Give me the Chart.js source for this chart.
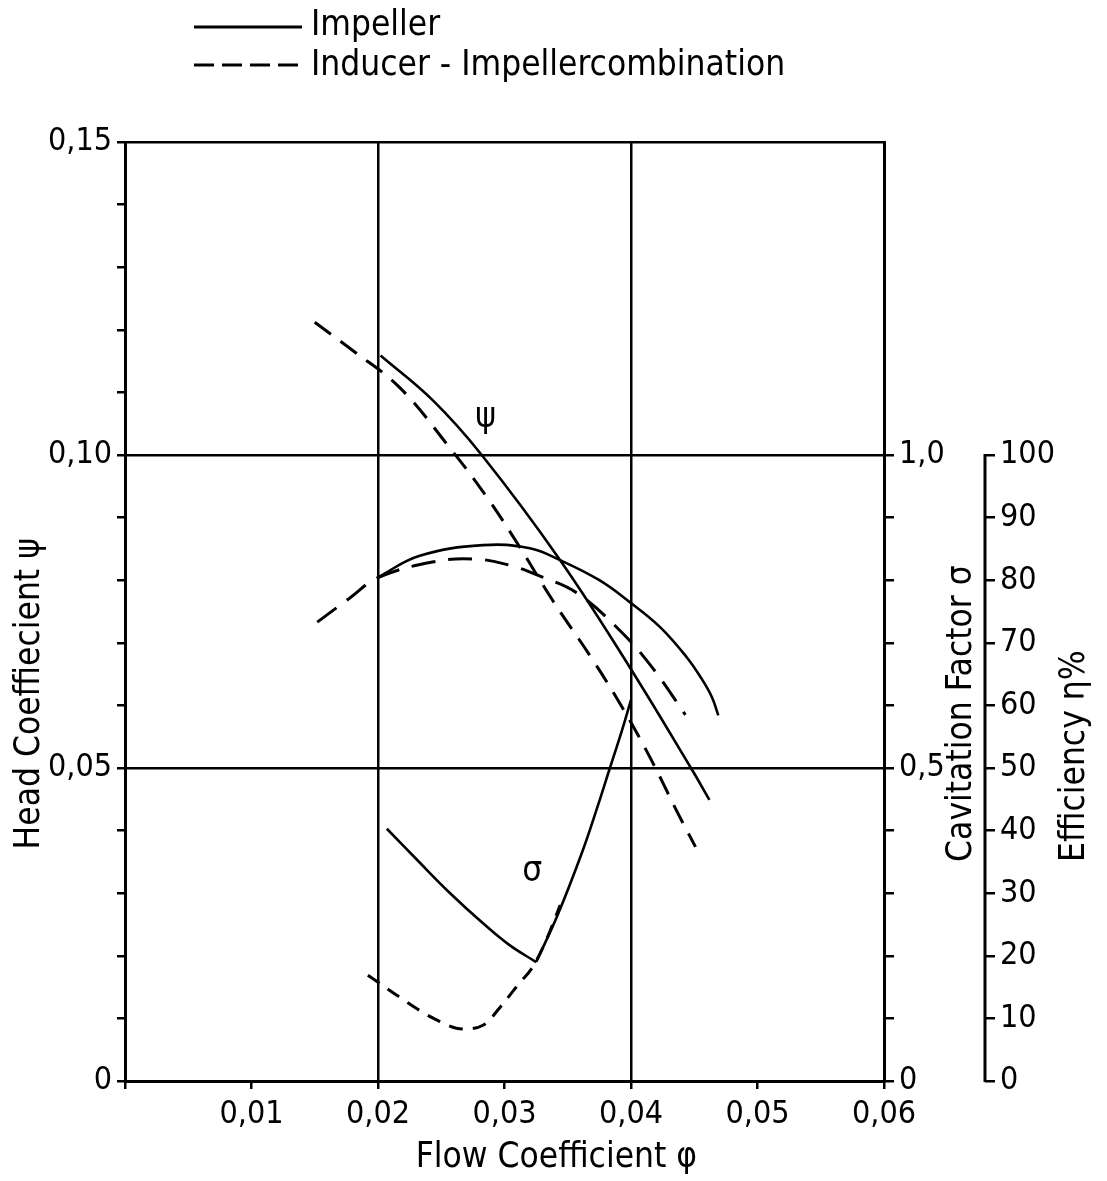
<!DOCTYPE html>
<html>
<head>
<meta charset="utf-8">
<script src="https://cdn.jsdelivr.net/npm/chart.js@4.4.1/dist/chart.umd.min.js"></script>
<style>
  html, body { margin: 0; padding: 0; background: #fff; }
</style>
</head>
<body>
<canvas id="mychart" width="1107" height="1181"></canvas>
<script>
// head coefficient psi over flow coefficient phi
const impPsiX = [0.0202, 0.0243, 0.0282, 0.0344, 0.0399, 0.0448, 0.0462];
const impPsi = [0.1159, 0.1088, 0.1000, 0.0832, 0.0661, 0.0498, 0.0449];
const indPsiX = [0.0150, 0.0180, 0.0217, 0.0255, 0.0286, 0.0312, 0.0338, 0.0370, 0.0393, 0.0415, 0.0437, 0.0451];
const indPsi = [0.1212, 0.1167, 0.1108, 0.1016, 0.0933, 0.0853, 0.0768, 0.0672, 0.0597, 0.0517, 0.0428, 0.0374];

// efficiency eta in %
const impEtaX = [0.0200, 0.0233, 0.0283, 0.0320, 0.0344, 0.0375, 0.0399, 0.0423, 0.0444, 0.0456, 0.0464, 0.0469];
const impEta = [80.5, 83.9, 85.6, 85.1, 83.2, 80.0, 76.5, 72.5, 67.7, 64.2, 61.3, 58.4];
const indEtaX = [0.0152, 0.0178, 0.0200, 0.0243, 0.0275, 0.0304, 0.0330, 0.0357, 0.0391, 0.0417, 0.0443];
const indEta = [73.3, 77.2, 80.4, 82.9, 83.4, 82.4, 80.5, 78.0, 72.0, 66.0, 58.5];

// cavitation factor sigma (impeller curve has a cusp, so two pieces)
const impSigDownX = [0.0207, 0.0231, 0.0257, 0.0283, 0.0304, 0.0325];
const impSigDown = [0.403, 0.353, 0.300, 0.252, 0.217, 0.190];
const impSigUpX = [0.0325, 0.0342, 0.0362, 0.0374, 0.0383, 0.0393, 0.0400];
const impSigUp = [0.190, 0.265, 0.369, 0.441, 0.498, 0.561, 0.609];
const indSigX = [0.0192, 0.0217, 0.0244, 0.0267, 0.0283, 0.0299, 0.0312, 0.0322, 0.0333, 0.0344];
const indSig = [0.169, 0.134, 0.100, 0.083, 0.089, 0.124, 0.157, 0.181, 0.225, 0.281];

const legendLabels = ["Impeller", "Inducer - Impellercombination"];

const TICK_FONT = { family: "'DejaVu Sans Condensed', 'DejaVu Sans', sans-serif", size: 32 };
const TEXT_FONT = "35px 'DejaVu Sans Condensed', 'DejaVu Sans', sans-serif";

const pts = (xs, ys) => xs.map((x, i) => ({ x: x, y: ys[i] }));
const near = (v, step) => Math.abs(v / step - Math.round(v / step)) < 1e-6;
const comma = (v, d) => v.toFixed(d).replace(".", ",");

const line = (label, data, axis, dash, mono) => ({
  label: label,
  data: data,
  yAxisID: axis,
  borderColor: "#000",
  borderWidth: dash ? 3 : 2.6,
  borderDash: dash || [],
  pointRadius: 0,
  fill: false,
  tension: 0.4,
  cubicInterpolationMode: mono ? "monotone" : "default",
});

const extras = {
  id: "extras",
  afterDraw(chart) {
    const ctx = chart.ctx;
    const { x, y, y2, y3 } = chart.scales;
    ctx.save();
    ctx.strokeStyle = "#000";
    ctx.fillStyle = "#000";

    // efficiency axis only runs 0..100
    ctx.lineWidth = 3;
    ctx.beginPath();
    ctx.moveTo(y3.left, y3.getPixelForValue(0) + 1);
    ctx.lineTo(y3.left, y3.getPixelForValue(100) - 1);
    ctx.stroke();

    // curve names
    ctx.font = TEXT_FONT;
    ctx.textAlign = "center";
    ctx.textBaseline = "middle";
    ctx.fillText("ψ", x.getPixelForValue(0.0285), y.getPixelForValue(0.1059));
    ctx.fillText("σ", x.getPixelForValue(0.0322), y2.getPixelForValue(0.334));

    // axis titles
    const vtitle = (text, px, py) => {
      ctx.save();
      ctx.translate(px, py);
      ctx.rotate(-Math.PI / 2);
      ctx.textAlign = "left";
      ctx.textBaseline = "middle";
      ctx.fillText(text, 0, 0);
      ctx.restore();
    };
    vtitle("Head Coeffiecient ψ", y.left + 30, y.getPixelForValue(0.037));
    vtitle("Cavitation Factor σ", y2.left + 78, y.getPixelForValue(0.035));
    vtitle("Efficiency η%", y3.left + 90, y.getPixelForValue(0.035));
    ctx.textAlign = "center";
    ctx.textBaseline = "alphabetic";
    ctx.fillText("Flow Coefficient φ", x.getPixelForValue(0.0341), 1167);

    // legend
    ctx.textAlign = "left";
    ctx.lineWidth = 3;
    ctx.beginPath();
    ctx.moveTo(194, 27);
    ctx.lineTo(302, 27);
    ctx.stroke();
    ctx.fillText(legendLabels[0], 311, 35);
    ctx.setLineDash([20, 8]);
    ctx.beginPath();
    ctx.moveTo(194, 65);
    ctx.lineTo(304, 65);
    ctx.stroke();
    ctx.setLineDash([]);
    ctx.fillText(legendLabels[1], 311, 75);
    ctx.restore();
  },
};

const black = "#000";
const clear = "rgba(0,0,0,0)";

new Chart(document.getElementById("mychart"), {
  type: "line",
  data: {
    datasets: [
      line("Impeller ψ", pts(impPsiX, impPsi), "y"),
      line("Inducer-Impeller ψ", pts(indPsiX, indPsi), "y", [20, 12]),
      line("Impeller η", pts(impEtaX, impEta), "y3"),
      line("Inducer-Impeller η", pts(indEtaX, indEta), "y3", [24, 13]),
      line("Impeller σ", pts(impSigDownX, impSigDown), "y2"),
      line("Impeller σ ", pts(impSigUpX, impSigUp), "y2"),
      line("Inducer-Impeller σ", pts(indSigX, indSig), "y2", [14, 10], true),
    ],
  },
  options: {
    responsive: false,
    animation: false,
    devicePixelRatio: 1,
    layout: { padding: { top: 142, left: 0, right: 0, bottom: 0 } },
    plugins: { legend: { display: false }, tooltip: { enabled: false } },
    scales: {
      x: {
        type: "linear",
        position: "bottom",
        min: 0,
        max: 0.06,
        afterFit: (s) => { s.height = 100; },
        ticks: {
          stepSize: 0.01,
          color: black,
          font: TICK_FONT,
          padding: 6,
          maxRotation: 0,
          callback: (v) => (near(v, 0.01) && v > 0.001 ? comma(v, 2) : ""),
        },
        grid: {
          color: (c) => (near(c.tick.value, 0.02) ? black : clear),
          tickColor: black,
          lineWidth: 2.5,
          tickLength: 8,
        },
        border: { color: black, width: 3 },
      },
      y: {
        type: "linear",
        position: "left",
        min: 0,
        max: 0.15,
        afterFit: (s) => { s.width = 125; },
        ticks: {
          stepSize: 0.01,
          color: black,
          font: TICK_FONT,
          padding: 5,
          callback: (v) => (near(v, 0.05) ? (v < 0.001 ? "0" : comma(v, 2)) : ""),
        },
        grid: {
          color: (c) => (near(c.tick.value, 0.05) ? black : clear),
          tickColor: black,
          lineWidth: 2.5,
          tickLength: 8,
        },
        border: { color: black, width: 3 },
      },
      y2: {
        type: "linear",
        position: "right",
        min: 0,
        max: 1.5,
        afterFit: (s) => { s.width = 101; },
        afterBuildTicks: (s) => { s.ticks = s.ticks.filter((t) => t.value <= 1.0001); },
        ticks: {
          stepSize: 0.1,
          color: black,
          font: TICK_FONT,
          padding: 5,
          callback: (v) => (near(v, 0.5) ? (v < 0.001 ? "0" : comma(v, 1)) : ""),
        },
        grid: { drawOnChartArea: false, tickColor: black, lineWidth: 2.5, tickLength: 10 },
        border: { color: black, width: 3 },
      },
      y3: {
        type: "linear",
        position: "right",
        min: 0,
        max: 150,
        afterFit: (s) => { s.width = 122; },
        afterBuildTicks: (s) => { s.ticks = s.ticks.filter((t) => t.value <= 100.001); },
        ticks: {
          stepSize: 10,
          color: black,
          font: TICK_FONT,
          padding: 5,
          callback: (v) => String(Math.round(v)),
        },
        grid: { drawOnChartArea: false, tickColor: black, lineWidth: 2.5, tickLength: 10 },
        border: { display: false },
      },
    },
  },
  plugins: [extras],
});
</script>
</body>
</html>
